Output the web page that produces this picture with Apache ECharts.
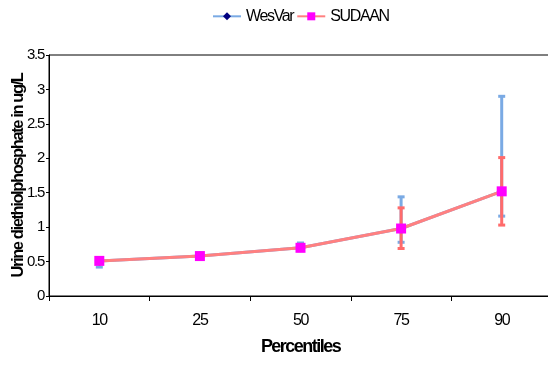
<!DOCTYPE html>
<html><head><meta charset="utf-8">
<script src="https://cdn.jsdelivr.net/npm/echarts@6/dist/echarts.min.js"></script>
<style>html,body{margin:0;padding:0;background:#fff}#c{width:548px;height:365px}</style>
</head><body><div id="c"></div>
<script>
const categories = ['10', '25', '50', '75', '90'];
const wesvarValues = [0.51, 0.58, 0.70, 0.98, 1.52];
const wesvarLow = [0.42, 0.55, 0.66, 0.78, 1.16];
const wesvarHigh = [0.55, 0.62, 0.77, 1.44, 2.90];
const sudaanValues = [0.51, 0.58, 0.70, 0.98, 1.52];
const sudaanLow = [0.48, 0.55, 0.66, 0.69, 1.03];
const sudaanHigh = [0.55, 0.61, 0.74, 1.28, 2.01];
const yTicks = [0, 0.5, 1, 1.5, 2, 2.5, 3, 3.5];

// condensed look of the original (tight letter spacing)
(function () {
  const P = CanvasRenderingContext2D.prototype;
  function setLS(ctx) {
    const m = /(\d+(?:\.\d+)?)px/.exec(ctx.font || '');
    if (m && 'letterSpacing' in ctx) ctx.letterSpacing = (-0.085 * parseFloat(m[1])).toFixed(2) + 'px';
  }
  const ft = P.fillText, mt = P.measureText, st = P.strokeText;
  P.fillText = function () { setLS(this); return ft.apply(this, arguments); };
  P.strokeText = function () { setLS(this); return st.apply(this, arguments); };
  P.measureText = function () { setLS(this); return mt.apply(this, arguments); };
})();

const FONT = '"Liberation Sans", Arial, sans-serif';

function errData(lo, hi) { return categories.map((c, i) => [i, lo[i], hi[i]]); }
function errRender(color) {
  return function (params, api) {
    const x = api.value(0);
    const lo = api.coord([x, api.value(1)]);
    const hi = api.coord([x, api.value(2)]);
    const w = 3.5;
    return {
      type: 'group',
      children: [
        { type: 'line', shape: { x1: lo[0], y1: lo[1], x2: hi[0], y2: hi[1] }, style: { stroke: color, lineWidth: 3 } },
        { type: 'line', shape: { x1: lo[0] - w, y1: lo[1], x2: lo[0] + w, y2: lo[1] }, style: { stroke: color, lineWidth: 3 } },
        { type: 'line', shape: { x1: hi[0] - w, y1: hi[1], x2: hi[0] + w, y2: hi[1] }, style: { stroke: color, lineWidth: 3 } }
      ]
    };
  };
}

const chart = echarts.init(document.getElementById('c'));
chart.setOption({
  animation: false,
  textStyle: { fontFamily: FONT },
  legend: {
    top: 4, left: 207, itemWidth: 28, itemHeight: 10, itemGap: 3,
    textStyle: { fontSize: 16, color: '#000', fontFamily: FONT },
    data: ['WesVar', 'SUDAAN']
  },
  grid: { left: 49, top: 55, right: -4, bottom: 69, outerBoundsMode: 'none', containLabel: false,
    show: true, borderColor: '#000', borderWidth: 1 },
  xAxis: {
    type: 'category', data: categories, boundaryGap: true,
    name: 'Percentiles', nameLocation: 'middle', nameGap: 43, nameMoveOverlap: false,
    nameTextStyle: { fontSize: 18, fontWeight: 'bold', color: '#000', fontFamily: FONT },
    axisLine: { lineStyle: { color: '#000', width: 1 } },
    axisTick: { show: true, length: 5, lineStyle: { color: '#000' } },
    axisLabel: { fontSize: 16, color: '#000', margin: 17, fontFamily: FONT }
  },
  yAxis: {
    type: 'value', min: 0, max: 3.5, interval: 0.5,
    name: 'Urine diethiolphosphate in ug/L', nameLocation: 'middle', nameGap: 23, nameMoveOverlap: false,
    nameTextStyle: { fontSize: 16.5, fontWeight: 'bold', color: '#000', fontFamily: FONT },
    axisLine: { show: true, lineStyle: { color: '#000', width: 1 } },
    axisTick: { show: true, length: 3, lineStyle: { color: '#000' } },
    splitLine: { show: false },
    axisLabel: { fontSize: 15, color: '#000', margin: 5, fontFamily: FONT,
      formatter: v => yTicks.includes(v) ? String(v) : '' }
  },
  series: [
    { name: 'WesVarErr', type: 'custom', renderItem: errRender('#7aaae4'), data: errData(wesvarLow, wesvarHigh), z: 1 },
    { name: 'WesVar', type: 'line', data: wesvarValues, symbol: 'diamond', symbolSize: 9,
      lineStyle: { color: '#7aaae4', width: 3 }, itemStyle: { color: '#000080' }, z: 2 },
    { name: 'SUDAANErr', type: 'custom', renderItem: errRender('#ff6b6b'), data: errData(sudaanLow, sudaanHigh), z: 3 },
    { name: 'SUDAAN', type: 'line', data: sudaanValues, symbol: 'rect', symbolSize: 10,
      lineStyle: { color: '#ff8080', width: 3 }, itemStyle: { color: '#ff00ff' }, z: 4 }
  ]
});
</script></body></html>
